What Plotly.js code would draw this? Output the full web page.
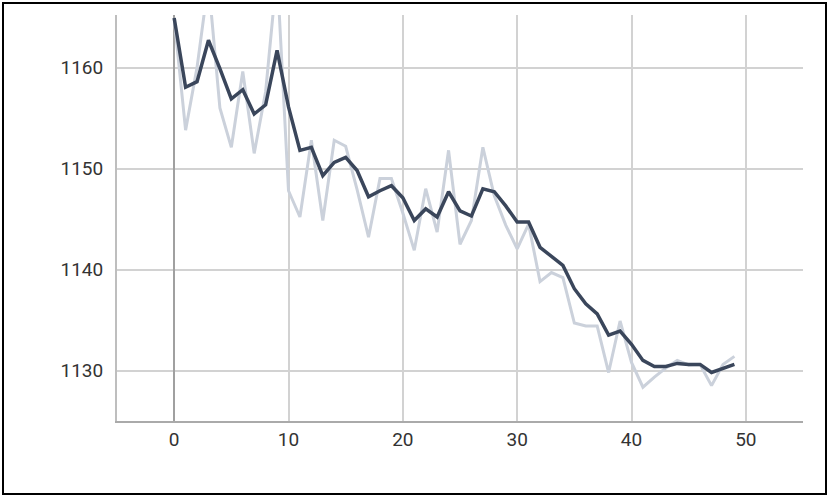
<!DOCTYPE html>
<html>
<head>
<meta charset="utf-8">
<script src="https://cdn.plot.ly/plotly-3.0.1.min.js"></script>
<style>
  body { margin: 0; background: #fff; }
  #wrap { position: relative; width: 830px; height: 503px; }
  #chart { position: absolute; left: 0; top: 0; width: 830px; height: 503px; }
  #frame { position: absolute; left: 2px; top: 2px; width: 821px; height: 489px;
           border: 2px solid #000; pointer-events: none; }
</style>
</head>
<body>
<div id="wrap">
  <div id="chart"></div>
  <div id="frame"></div>
</div>
<script>
// step index
var steps = [];
for (var i = 0; i < 50; i++) steps.push(i);

// raw values (light line)
var rawValues = [
  1164.9, 1153.8, 1160.0, 1168.5, 1156.0, 1152.1, 1159.6, 1151.5, 1157.6, 1169.5,
  1147.8, 1145.2, 1152.8, 1144.85, 1152.8, 1152.2, 1147.9, 1143.2, 1149.0, 1149.0,
  1145.6, 1141.9, 1148.0, 1143.7, 1151.8, 1142.5, 1144.85, 1152.1, 1147.3, 1144.4,
  1142.05, 1144.5, 1138.8, 1139.7, 1139.2, 1134.7, 1134.4, 1134.4, 1129.8, 1134.9,
  1130.8, 1128.35, 1129.35, 1130.25, 1131.0, 1130.55, 1130.6, 1128.5, 1130.6, 1131.4
];

// smoothed values (dark line)
var smoothValues = [
  1164.9, 1158.05, 1158.6, 1162.7, 1159.9, 1156.9, 1157.8, 1155.4, 1156.3, 1161.7,
  1156.1, 1151.8, 1152.1, 1149.3, 1150.6, 1151.1, 1149.8, 1147.2, 1147.8, 1148.3,
  1147.1, 1144.85, 1146.0, 1145.2, 1147.7, 1145.8, 1145.3, 1148.0, 1147.7, 1146.3,
  1144.7, 1144.7, 1142.2, 1141.25, 1140.4, 1138.1, 1136.6, 1135.6, 1133.5, 1133.9,
  1132.6, 1131.0, 1130.4, 1130.4, 1130.7, 1130.6, 1130.6, 1129.8, 1130.2, 1130.6
];

var xTicks = [0, 10, 20, 30, 40, 50];
var yTicks = [1130, 1140, 1150, 1160];

var raw = {
    x: steps,
    y: rawValues,
    mode: 'lines',
    type: 'scatter',
    line: {color: 'rgb(203,209,219)', width: 3},
    hoverinfo: 'skip'
};

var smooth = {
    x: steps,
    y: smoothValues,
    mode: 'lines',
    type: 'scatter',
    line: {color: 'rgb(58,70,91)', width: 3.5},
    hoverinfo: 'skip'
};

var tickFont = {family: 'Roboto, sans-serif', size: 19, color: '#333'};

var layout = {
    width: 830,
    height: 503,
    margin: {l: 117, r: 27, t: 15, b: 82},
    showlegend: false,
    paper_bgcolor: 'rgba(0,0,0,0)',
    plot_bgcolor: '#fff',
    font: {family: 'Roboto, sans-serif', size: 19, color: '#333'},
    xaxis: {
        range: [-5, 55],
        tickvals: xTicks,
        tickfont: tickFont,
        showgrid: true,
        gridcolor: 'rgb(210,210,210)',
        gridwidth: 2,
        zeroline: true,
        zerolinecolor: 'rgb(160,160,160)',
        zerolinewidth: 2,
        showline: true,
        linecolor: 'rgb(170,170,170)',
        linewidth: 2,
        ticks: '',
        ticklabelstandoff: 0
    },
    yaxis: {
        range: [1125, 1165.2],
        tickvals: yTicks,
        tickfont: tickFont,
        showgrid: true,
        gridcolor: 'rgb(210,210,210)',
        gridwidth: 2,
        zeroline: false,
        showline: true,
        linecolor: 'rgb(190,190,190)',
        linewidth: 2,
        ticks: '',
        ticklabelstandoff: 8
    }
};

Plotly.newPlot('chart', [raw, smooth], layout, {displayModeBar: false, staticPlot: true});
</script>
</body>
</html>
